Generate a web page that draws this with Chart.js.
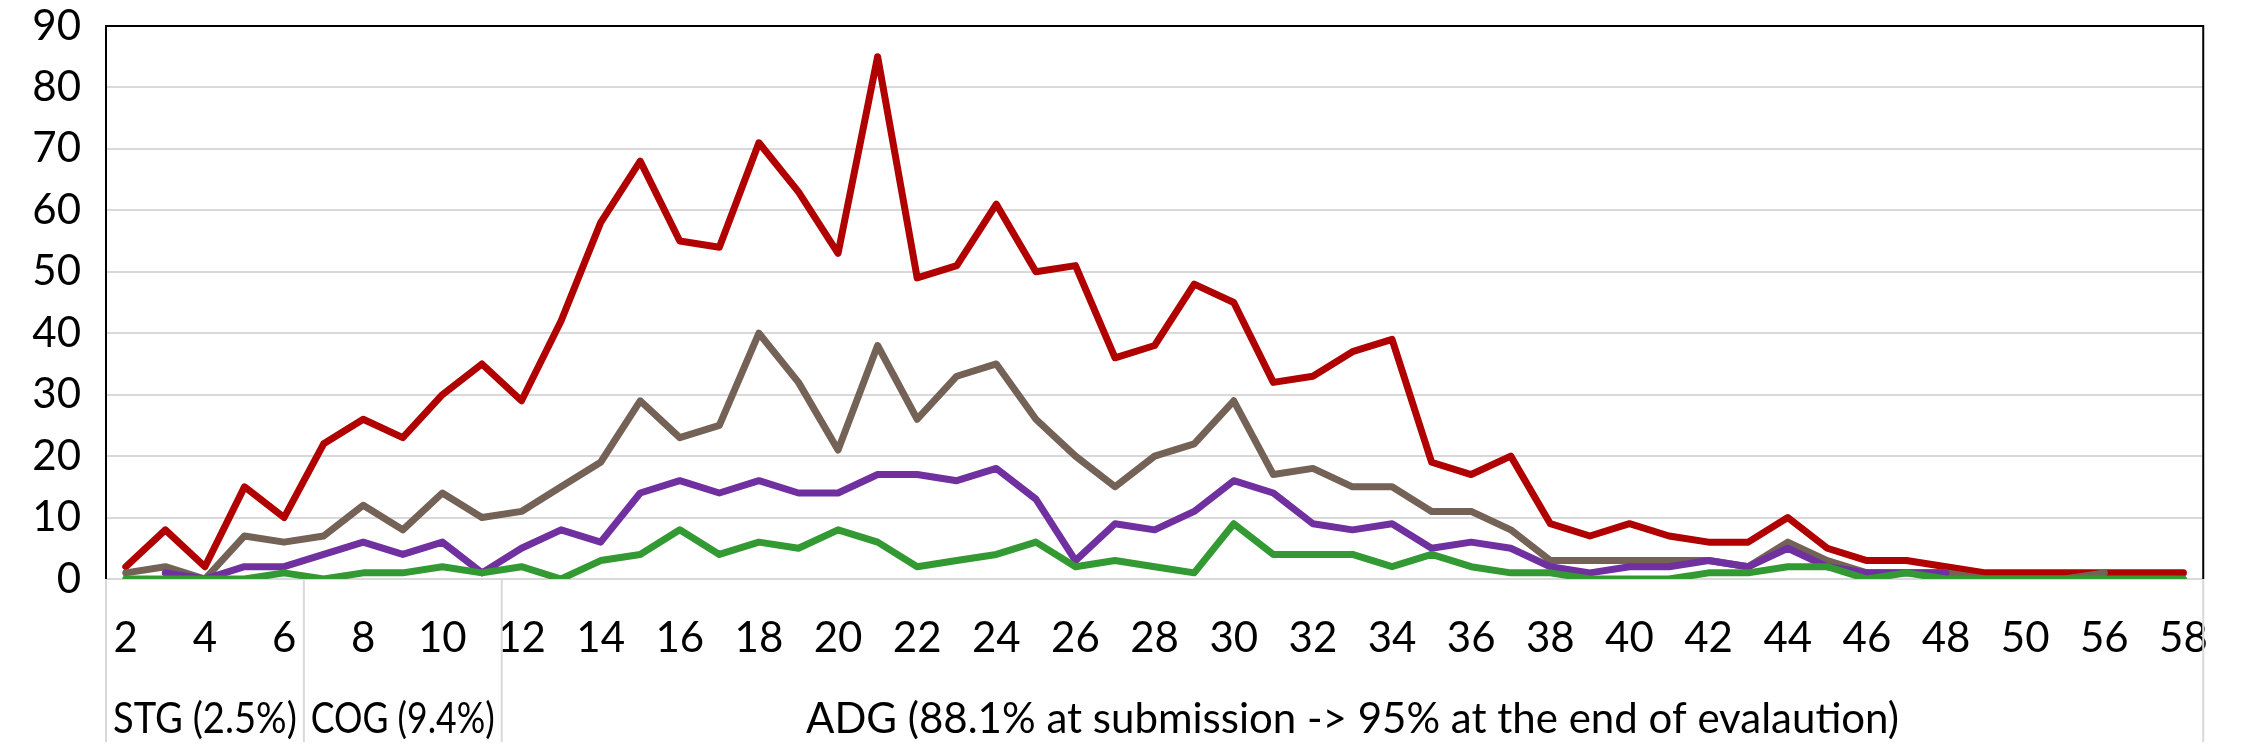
<!DOCTYPE html>
<html>
<head>
<meta charset="utf-8">
<script src="https://cdn.jsdelivr.net/npm/chart.js@4.4.1/dist/chart.umd.min.js"></script>
<style>
  html, body { margin: 0; padding: 0; background: #fff; }
  canvas { display: block; }
</style>
</head>
<body>
<canvas id="chart" width="2242" height="750"></canvas>
<script>
// categories (the one between 50 and 56 has no visible label)
const categories = ['2','3','4','5','6','7','8','9','10','11','12','13','14','15','16','17','18','19','20',
  '21','22','23','24','25','26','27','28','29','30','31','32','33','34','35','36','37','38','39','40',
  '41','42','43','44','45','46','47','48','49','50','52','56','57','58']

const redSeries = [2,8,2,15,10,22,26,23,30,35,29,42,58,68,55,54,71,63,53,85,49,51,61,50,51,36,38,48,45,
  32,33,37,39,19,17,20,9,7,9,7,6,6,10,5,3,3,2,1,1,1,1,1,1]
const brownSeries = [1,2,0,7,6,7,12,8,14,10,11,15,19,29,23,25,40,32,21,38,26,33,35,26,20,15,20,22,29,
  17,18,15,15,11,11,8,3,3,3,3,3,2,6,3,1,1,1,0,0,0,1,null,null]
const purpleSeries = [null,1,0,2,2,4,6,4,6,1,5,8,6,14,16,14,16,14,14,17,17,16,18,13,3,9,8,11,16,
  14,9,8,9,5,6,5,2,1,2,2,3,2,5,2,1,1,1,null,null,null,null,null,null]
const greenSeries = [0,0,0,0,1,0,1,1,2,1,2,0,3,4,8,4,6,5,8,6,2,3,4,6,2,3,2,1,9,
  4,4,4,2,4,2,1,1,0,0,0,1,1,2,2,0,1,0,0,0,0,0,0,0]

// category groups shown under the axis: first category index of each group
const groupLabels = ['STG (2.5%)', 'COG (9.4%)', 'ADG (88.1% at submission -> 95% at the end of evalaution)']
const groupStarts = [0, 5, 10]

const FONT = "Lato, 'Open Sans', sans-serif"

const groupAxis = {
  id: 'groupAxis',
  afterDraw(chart) {
    const {ctx, chartArea} = chart
    const x = chart.scales.x
    const {left, right, top, bottom} = chartArea
    ctx.save()
    // frame top + right
    ctx.strokeStyle = '#000'
    ctx.lineWidth = 2
    ctx.beginPath()
    ctx.moveTo(left, top)
    ctx.lineTo(right, top)
    ctx.lineTo(right, bottom)
    ctx.stroke()

    // group separators below the axis
    const edges = [left]
    for (let g = 1; g < groupStarts.length; g++) {
      const b = groupStarts[g]
      edges.push((x.getPixelForValue(b - 1) + x.getPixelForValue(b)) / 2)
    }
    edges.push(right)
    ctx.strokeStyle = '#d9d9d9'
    ctx.lineWidth = 2
    edges.forEach(px => {
      ctx.beginPath()
      ctx.moveTo(px, bottom)
      ctx.lineTo(px, bottom + 163)
      ctx.stroke()
    })

    ctx.fillStyle = '#000'
    ctx.font = '42px ' + FONT
    ctx.textAlign = 'center'
    ctx.textBaseline = 'middle'
    groupLabels.forEach((t, g) => {
      const w = edges[g + 1] - edges[g]
      ctx.fillText(t, (edges[g] + edges[g + 1]) / 2, bottom + 140, w - 14)
    })
    ctx.restore()
  }
}

const line = (data, color, order) => ({
  data, borderColor: color, backgroundColor: color, borderWidth: 7,
  pointRadius: 0, tension: 0, order,
  borderJoinStyle: 'round', borderCapStyle: 'round', spanGaps: false
})

new Chart(document.getElementById('chart'), {
  type: 'line',
  data: {
    labels: categories,
    datasets: [
      line(redSeries, '#b00000', 4),
      line(brownSeries, '#746257', 3),
      line(purpleSeries, '#7030a0', 2),
      line(greenSeries, '#339933', 1)
    ]
  },
  options: {
    responsive: false,
    animation: false,
    devicePixelRatio: 1,
    layout: {padding: {top: 26, right: 20, left: 0, bottom: 0}},
    plugins: {legend: {display: false}, tooltip: {enabled: false}},
    scales: {
      x: {
        offset: true,
        grid: {display: false, drawTicks: false},
        border: {color: '#d9d9d9', width: 2},
        ticks: {
          autoSkip: false, maxRotation: 0, padding: 34, color: '#000',
          font: {family: FONT, size: 42},
          callback(val, i) { return i % 2 === 0 ? this.getLabelForValue(val) : '' }
        },
        afterFit(scale) { scale.height = 171 }
      },
      y: {
        min: 0, max: 90,
        grid: {color: '#d9d9d9', lineWidth: 2, drawTicks: false},
        border: {color: '#000', width: 2},
        ticks: {stepSize: 10, padding: 25, color: '#000', font: {family: FONT, size: 42}},
        afterFit(scale) {
          scale.width = 106
          scale.paddingTop = 0
          scale.paddingBottom = 0
        }
      }
    }
  },
  plugins: [groupAxis]
})
</script>
</body>
</html>
